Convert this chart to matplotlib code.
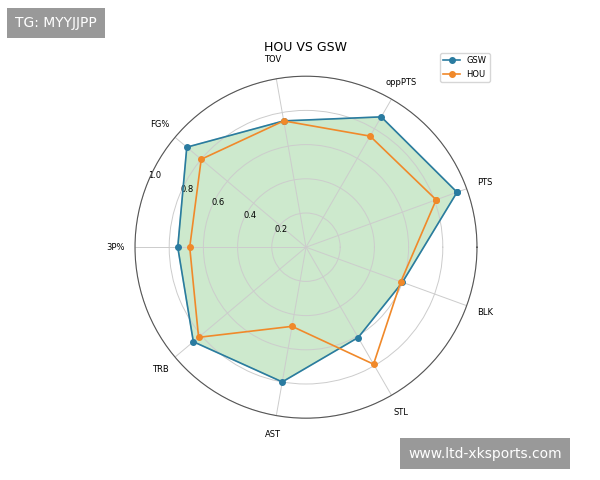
import numpy as np
import matplotlib
matplotlib.use("Agg")
import matplotlib.pyplot as plt

categories = ["PTS", "oppPTS", "TOV", "FG%", "3P%", "TRB", "AST", "STL", "BLK"]
gsw = [0.94, 0.88, 0.75, 0.91, 0.75, 0.86, 0.80, 0.61, 0.60]
hou = [0.81, 0.75, 0.75, 0.80, 0.68, 0.82, 0.47, 0.79, 0.59]

n = len(categories)
angles = np.deg2rad(20 + 40 * np.arange(n))
ang_c = np.concatenate([angles, angles[:1]])
g = np.concatenate([gsw, gsw[:1]])
h = np.concatenate([hou, hou[:1]])

fig = plt.figure(figsize=(6, 4.8), dpi=100)
ax = fig.add_axes([0.225, 0.125, 0.57, 0.72], projection="polar")
ax.plot(ang_c, g, "o-", color="#2a7ba0", lw=1.2, ms=4, label="GSW")
ax.fill(ang_c, g, color="#5cb85c", alpha=0.3)
ax.plot(ang_c, h, "o-", color="#f0892a", lw=1.2, ms=4, label="HOU")
ax.set_xticks(angles)
ax.set_xticklabels(categories, fontsize=6)
ax.set_ylim(0, 1.0)
ax.set_yticks([0.2, 0.4, 0.6, 0.8, 1.0])
ax.set_yticklabels(["0.2", "0.4", "0.6", "0.8", "1.0"], fontsize=6)
ax.set_rlabel_position(157)
ax.grid(color="#cccccc", lw=0.7)
ax.spines["polar"].set_color("#555555")
ax.set_title("HOU VS GSW", fontsize=9, pad=18)
ax.legend(loc="upper right", bbox_to_anchor=(1.05, 1.08), fontsize=6)

fig.text(0.025, 0.952, "TG: MYYJJPP", color="white", fontsize=10, va="center",
         bbox=dict(boxstyle="square,pad=0.6", fc="#999999", ec="none"))
fig.text(0.68, 0.055, "www.ltd-xksports.com", color="white", fontsize=10, va="center",
         bbox=dict(boxstyle="square,pad=0.6", fc="#999999", ec="none"))
fig.savefig("out.png", dpi=100)
